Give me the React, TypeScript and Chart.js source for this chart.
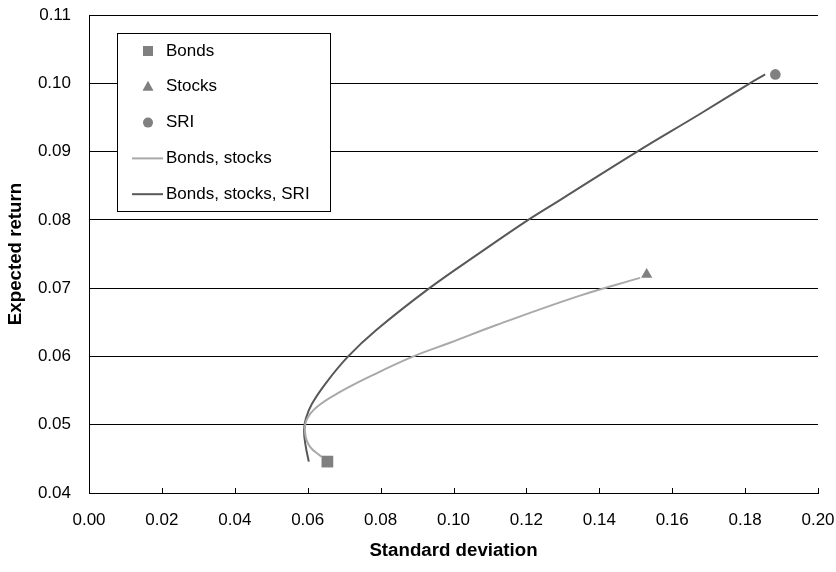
import React, { useEffect, useRef } from 'react';
import { Chart, registerables } from 'chart.js';

Chart.register(...registerables);

// ---- Data ----
const bondsSD = [0.0654];
const bondsReturn = [0.0446];

const stocksSD = [0.153];
const stocksReturn = [0.072];

const sriSD = [0.1883];
const sriReturn = [0.1013];

const bondsStocksSD = [0.0638, 0.0606, 0.0593, 0.0597, 0.0625, 0.0689, 0.078, 0.089, 0.099, 0.1118, 0.1347, 0.1512];
const bondsStocksReturn = [0.0453, 0.0468, 0.0487, 0.0507, 0.0526, 0.0548, 0.0573, 0.06, 0.062, 0.0646, 0.0689, 0.0715];

const bondsStocksSriSD = [0.0603, 0.0594, 0.059, 0.0595, 0.0611, 0.065, 0.0711, 0.0789, 0.0934, 0.1073, 0.1205, 0.1292, 0.1504, 0.1676, 0.1813, 0.1855];
const bondsStocksSriReturn = [0.0446, 0.047, 0.0492, 0.0509, 0.053, 0.0561, 0.06, 0.0639, 0.07, 0.0752, 0.08, 0.0829, 0.09, 0.0955, 0.1, 0.1013];

const xTickValues = [0, 0.02, 0.04, 0.06, 0.08, 0.1, 0.12, 0.14, 0.16, 0.18, 0.2];
const yTickValues = [0.04, 0.05, 0.06, 0.07, 0.08, 0.09, 0.1, 0.11];

const seriesLabels = ['Bonds', 'Stocks', 'SRI', 'Bonds, stocks', 'Bonds, stocks, SRI'];
const xTitle = 'Standard deviation';
const yTitle = 'Expected return';

const FONT = '"Liberation Sans", Arial, Helvetica, sans-serif';
const MARKER = '#808080';
const LIGHT = '#a9a9a9';
const DARK = '#585858';

const toPoints = (xs: number[], ys: number[]) => xs.map((x, i) => ({ x, y: ys[i] }));

const innerTicksPlugin = {
  id: 'innerTicks',
  afterDatasetsDraw(chart: any) {
    const { ctx, chartArea, scales } = chart;
    const xs = scales.x;
    ctx.save();
    ctx.strokeStyle = '#000';
    ctx.lineWidth = 1;
    xs.ticks.forEach((t: any) => {
      const px = Math.round(xs.getPixelForValue(t.value)) + 0.5;
      ctx.beginPath();
      ctx.moveTo(px, chartArea.bottom);
      ctx.lineTo(px, chartArea.bottom - 5);
      ctx.stroke();
    });
    ctx.restore();
  },
};

const boxLegendPlugin = {
  id: 'boxLegend',
  afterDraw(chart: any) {
    const { ctx, chartArea } = chart;
    const x0 = Math.round(chartArea.left + 28);
    const y0 = Math.round(chartArea.top + 18);
    const w = 213;
    const h = 178;
    ctx.save();
    ctx.fillStyle = '#fff';
    ctx.fillRect(x0, y0, w, h);
    ctx.strokeStyle = '#000';
    ctx.lineWidth = 1;
    ctx.strokeRect(x0 + 0.5, y0 + 0.5, w, h);
    ctx.font = `17px ${FONT}`;
    ctx.textBaseline = 'middle';
    ctx.textAlign = 'left';
    chart.data.datasets.forEach((ds: any, i: number) => {
      const cy = y0 + 18 + i * 35.8;
      const mx = x0 + 31;
      if (ds.showLine) {
        ctx.strokeStyle = ds.borderColor;
        ctx.lineWidth = 2;
        ctx.beginPath();
        ctx.moveTo(x0 + 15, cy);
        ctx.lineTo(x0 + 46, cy);
        ctx.stroke();
      } else {
        ctx.fillStyle = ds.backgroundColor;
        ctx.beginPath();
        if (ds.pointStyle === 'rect') {
          ctx.rect(mx - 5, cy - 5, 10, 10);
        } else if (ds.pointStyle === 'triangle') {
          ctx.moveTo(mx, cy - 6);
          ctx.lineTo(mx + 5.5, cy + 4);
          ctx.lineTo(mx - 5.5, cy + 4);
          ctx.closePath();
        } else {
          ctx.arc(mx, cy, 5, 0, Math.PI * 2);
        }
        ctx.fill();
      }
      ctx.fillStyle = '#000';
      ctx.fillText(ds.label, x0 + 49, cy);
    });
    ctx.restore();
  },
};

export default function App() {
  const canvasRef = useRef<HTMLCanvasElement | null>(null);

  useEffect(() => {
    if (!canvasRef.current) return;
    const chart = new Chart(canvasRef.current, {
      type: 'scatter',
      data: {
        datasets: [
          {
            label: seriesLabels[0],
            data: toPoints(bondsSD, bondsReturn),
            pointStyle: 'rect',
            pointRadius: 8.3,
            backgroundColor: MARKER,
            borderColor: MARKER,
            borderWidth: 0,
          },
          {
            label: seriesLabels[1],
            data: toPoints(stocksSD, stocksReturn),
            pointStyle: 'triangle',
            pointRadius: 6.5,
            backgroundColor: MARKER,
            borderColor: MARKER,
            borderWidth: 0,
          },
          {
            label: seriesLabels[2],
            data: toPoints(sriSD, sriReturn),
            pointStyle: 'circle',
            pointRadius: 5.3,
            backgroundColor: MARKER,
            borderColor: MARKER,
            borderWidth: 0,
          },
          {
            label: seriesLabels[3],
            data: toPoints(bondsStocksSD, bondsStocksReturn),
            showLine: true,
            pointRadius: 0,
            borderColor: LIGHT,
            backgroundColor: LIGHT,
            borderWidth: 2,
            tension: 0.4,
          },
          {
            label: seriesLabels[4],
            data: toPoints(bondsStocksSriSD, bondsStocksSriReturn),
            showLine: true,
            pointRadius: 0,
            borderColor: DARK,
            backgroundColor: DARK,
            borderWidth: 2,
            tension: 0.4,
          },
        ],
      },
      options: {
        responsive: false,
        animation: false,
        devicePixelRatio: 1,
        layout: { padding: { top: 15, right: 18, left: 0, bottom: 0 } },
        plugins: { legend: { display: false }, tooltip: { enabled: false } },
        scales: {
          x: {
            type: 'linear',
            min: 0,
            max: 0.2,
            afterBuildTicks: (s: any) => {
              s.ticks = xTickValues.map((v) => ({ value: v }));
            },
            afterFit: (s: any) => {
              s.height = 79;
              s.paddingLeft = 0;
              s.paddingRight = 0;
            },
            grid: { display: true, drawOnChartArea: false, drawTicks: false, color: '#000' },
            border: { display: true, color: '#000', width: 1 },
            ticks: {
              padding: 17,
              color: '#000',
              autoSkip: false,
              maxRotation: 0,
              font: { family: FONT, size: 17 },
              callback: (v: any) => Number(v).toFixed(2),
            },
            title: {
              display: true,
              text: xTitle,
              color: '#000',
              font: { family: FONT, size: 18.7, weight: 'bold' },
              padding: { top: 0, bottom: 10 },
            },
          },
          y: {
            type: 'linear',
            min: 0.04,
            max: 0.11,
            afterBuildTicks: (s: any) => {
              s.ticks = yTickValues.map((v) => ({ value: v }));
            },
            afterFit: (s: any) => {
              s.width = 89;
              s.paddingTop = 0;
              s.paddingBottom = 0;
            },
            grid: { display: true, drawTicks: false, color: '#000', lineWidth: 1 },
            border: { display: true, color: '#000', width: 1 },
            ticks: {
              padding: 18,
              color: '#000',
              autoSkip: false,
              font: { family: FONT, size: 17 },
              callback: (v: any) => Number(v).toFixed(2),
            },
            title: {
              display: true,
              text: yTitle,
              color: '#000',
              font: { family: FONT, size: 18.7, weight: 'bold' },
              padding: { top: 5, bottom: 0 },
            },
          },
        },
      },
      plugins: [innerTicksPlugin, boxLegendPlugin],
    } as any);
    return () => chart.destroy();
  }, []);

  return (
    <div style={{ position: 'fixed', left: 0, top: 0, width: 836, height: 572, background: '#fff' }}>
      <canvas ref={canvasRef} width={836} height={572} style={{ width: 836, height: 572 }} />
    </div>
  );
}
